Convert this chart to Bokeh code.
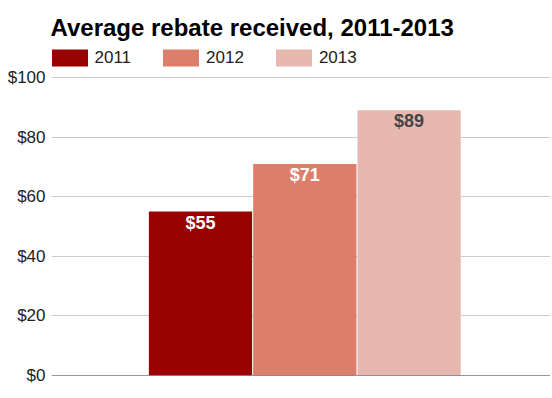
from bokeh.plotting import figure
from bokeh.models import (ColumnDataSource, Range1d, LabelSet, Legend, LegendItem,
                          FixedTicker, CustomJSTickFormatter, Span)
from bokeh.core.properties import value
from bokeh.embed import file_html
from bokeh.resources import INLINE

years = ["2011", "2012", "2013"]
rebates = [55, 71, 89]
colors = ["#990000", "#dd7e6b", "#e6b8af"]
label_colors = ["#ffffff", "#ffffff", "#444444"]
y_ticks = [0, 20, 40, 60, 80, 100]

FONT = "Liberation Sans"

src = ColumnDataSource(dict(
    x=list(range(len(years))),
    year=years,
    value=rebates,
    color=colors,
    label=["$" + str(v) for v in rebates],
    label_color=label_colors,
))

# frame extends a little above the top gridline so the legend can sit inside it
p = figure(output_backend="svg", toolbar_location=None,
           x_range=Range1d(-1.4286, 3.3557), y_range=Range1d(0, 111.074),
           frame_width=499, frame_height=331,
           min_border_left=51, min_border_right=0, min_border_top=44, min_border_bottom=15)

p.title.text = "Average rebate received, 2011-2013"
p.title.text_font = FONT
p.title.text_font_size = "24px"
p.title.text_font_style = "bold"
p.title.text_color = "#000000"
p.title.offset = -1
p.title.standoff = 8

r = p.vbar(x="x", top="value", width=0.99, color="color", source=src, line_color=None)

labels = LabelSet(x="x", y="value", text="label", source=src, text_align="center",
                  text_baseline="top", y_offset=-1, text_font=value(FONT),
                  text_font_size="18px", text_font_style="bold", text_color="label_color")
p.add_layout(labels)

legend_items = [LegendItem(label=years[i], renderers=[r], index=i) for i in range(len(years))]
legend = Legend(items=legend_items, orientation="horizontal", location=(-4.5, 307),
                glyph_width=45, glyph_height=21, label_height=21, label_standoff=3,
                spacing=27, padding=0, margin=0, border_line_color=None,
                background_fill_alpha=0, label_text_font=FONT, label_text_font_size="17px",
                label_text_color="#222222", label_text_baseline="middle")
p.add_layout(legend, "center")

p.yaxis.ticker = FixedTicker(ticks=y_ticks)
p.yaxis.formatter = CustomJSTickFormatter(code="return '$' + tick")
p.yaxis.axis_line_color = None
p.yaxis.major_tick_line_color = None
p.yaxis.minor_tick_line_color = None
p.yaxis.major_tick_out = 0
p.yaxis.major_tick_in = 0
p.yaxis.major_label_text_font = FONT
p.yaxis.major_label_text_font_size = "17px"
p.yaxis.major_label_text_color = "#222222"
p.yaxis.major_label_standoff = 6

p.xaxis.visible = False
p.xgrid.grid_line_color = None
p.ygrid.grid_line_color = "#cccccc"
p.ygrid.ticker = FixedTicker(ticks=y_ticks)

p.add_layout(Span(location=0, dimension="width", line_color="#333333", line_width=1))

p.outline_line_color = None

open("out.html", "w").write(file_html(p, INLINE))
